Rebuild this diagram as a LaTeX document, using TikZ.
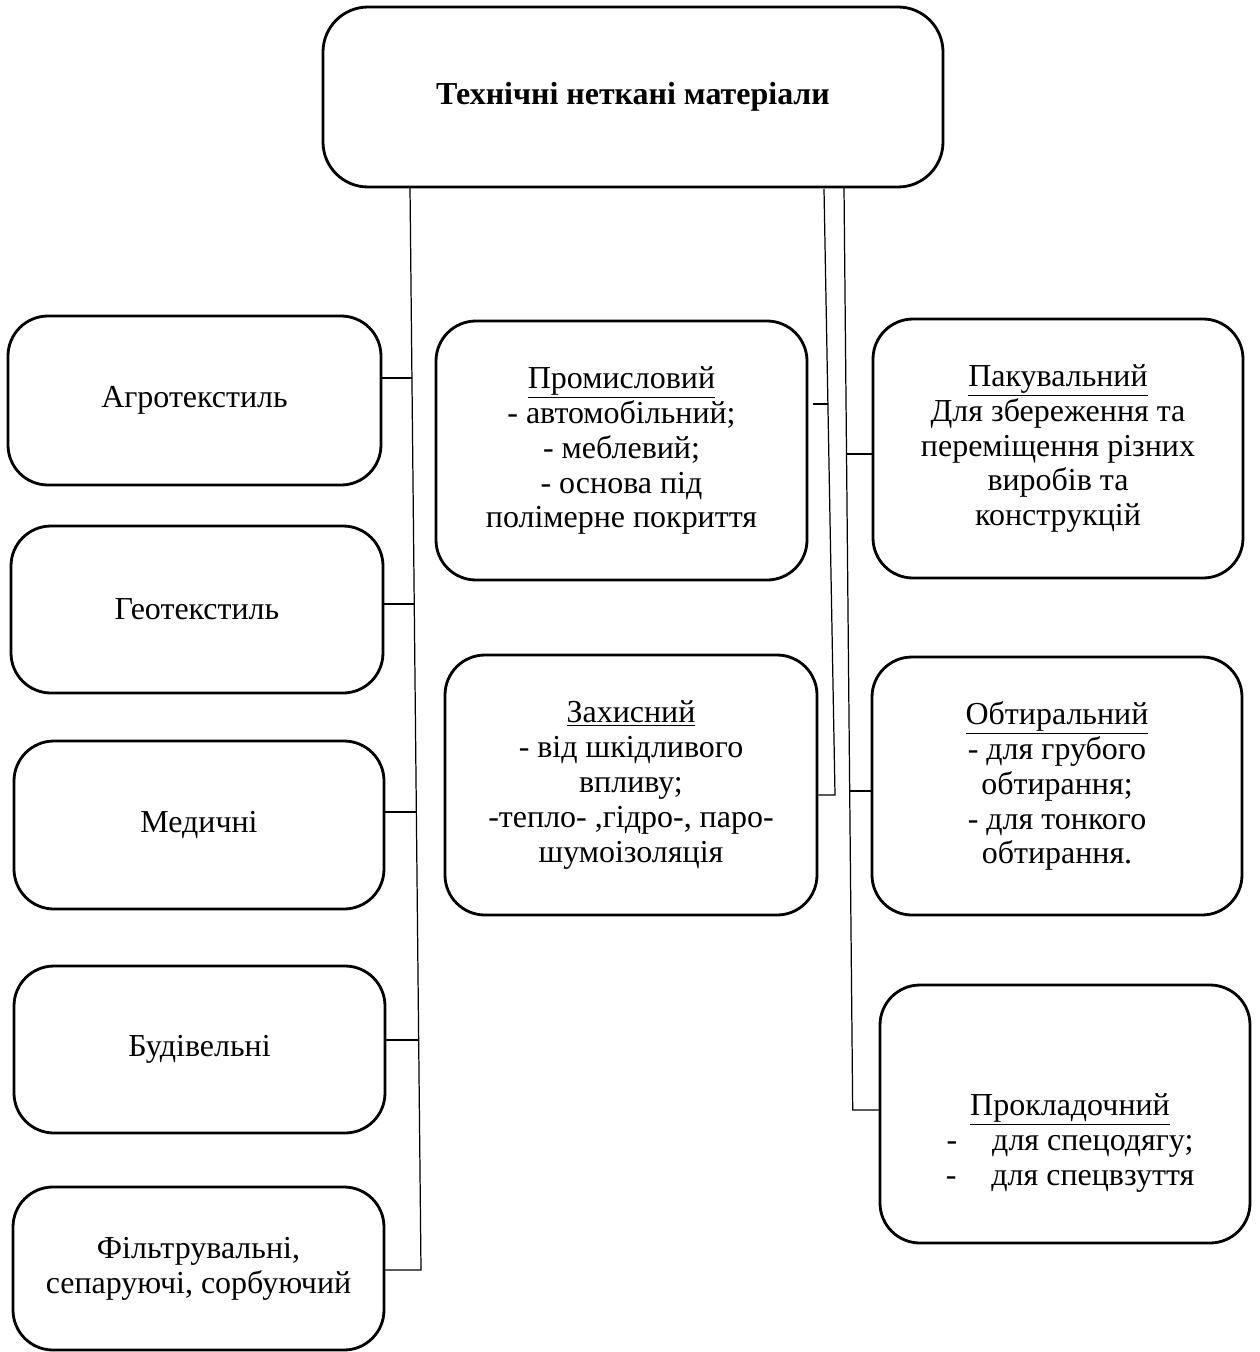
\documentclass[tikz,border=0pt]{standalone}
\usepackage{fontspec}
\setmainfont{Liberation Serif}
\newcommand{\fs}{\fontsize{18.2}{19.9}\selectfont}
\begin{document}
\begin{tikzpicture}[x=0.02cm,y=-0.02cm,
  box/.style={draw, line width=1.6pt, rounded corners=0.8cm, align=center, inner sep=0pt, font=\fs},
  bx/.style 2 args={minimum width=#1*0.02cm, minimum height=#2*0.02cm},
  conn/.style={line width=0.7pt}]
\useasboundingbox (0,0) rectangle (1260,1352);
% top
\node[box, rounded corners=0.9cm, bx={620}{180}] (top) at (633,97) {\textbf{Технічні неткані матеріали}};
% left column
\node[box, bx={373}{169}] (agro) at (194.5,400.5) {\raisebox{-0.08cm}{Агротекстиль}};
\node[box, bx={372}{167}] (geo) at (197,609.5) {\raisebox{-0.06cm}{Геотекстиль}};
\node[box, bx={370}{168}] (med) at (199,825) {\raisebox{-0.06cm}{Медичні}};
\node[box, bx={371}{167}] (bud) at (199.5,1049.5) {\raisebox{-0.06cm}{Будівельні}};
\node[box, bx={371}{163}] (filt) at (198.5,1268.5) {Фільтрувальні,\\сепаруючі, сорбуючий};
% middle column
\node[box, bx={371}{259}] (prom) at (621.5,450.5) {\underline{Промисловий}\\- автомобільний;\\- меблевий;\\- основа під\\полімерне покриття};
\node[box, bx={372}{260}] (zakh) at (631,785) {\underline{Захисний}\\- від шкідливого\\впливу;\\-тепло- ,гідро-, паро-\\шумоізоляція};
% right column
\node[box, bx={370}{259}] (pak) at (1058,448.5) {\underline{Пакувальний}\\Для збереження та\\переміщення різних\\виробів та\\конструкцій};
\node[box, bx={370}{258}] (obt) at (1057,786) {\underline{Обтиральний}\\- для грубого\\обтирання;\\- для тонкого\\обтирання.};
\node[box, bx={370}{258}] (prok) at (1065,1114) {};
\node[align=center, inner sep=0pt, font=\fs] (proktext) at (1070,1143) {\underline{Прокладочний}\\-\hspace{0.7cm}для спецодягу;\\-\hspace{0.7cm}для спецвзуття};
% left trunk
\coordinate (lt) at (410,187);
\coordinate (lb) at (421,1270);
\coordinate (jA) at (411.9,378);
\coordinate (jG) at (414.2,604);
\coordinate (jM) at (416.3,812);
\coordinate (jB) at (418.7,1040);
\draw[conn] (lt) -- (lb) -- (filt.east |- lb);
\draw[conn] (agro.east |- jA) -- (jA);
\draw[conn] (geo.east |- jG) -- (jG);
\draw[conn] (med.east |- jM) -- (jM);
\draw[conn] (bud.east |- jB) -- (jB);
% middle trunk 1
\coordinate (m1t) at (824,189);
\coordinate (m1b) at (835,795);
\coordinate (jP) at (827.9,404);
\draw[conn] (m1t) -- (m1b) -- (zakh.east |- m1b);
\draw[conn, shorten <=0.1cm] (prom.east |- jP) -- (jP);
% middle trunk 2
\coordinate (m2t) at (844,187);
\coordinate (m2b) at (852.7,1110);
\coordinate (jK) at (846.6,454);
\coordinate (jO) at (849.9,791);
\draw[conn] (m2t) -- (m2b) -- (prok.west |- m2b);
\draw[conn] (jK) -- (pak.west |- jK);
\draw[conn] (jO) -- (obt.west |- jO);
\end{tikzpicture}
\end{document}
